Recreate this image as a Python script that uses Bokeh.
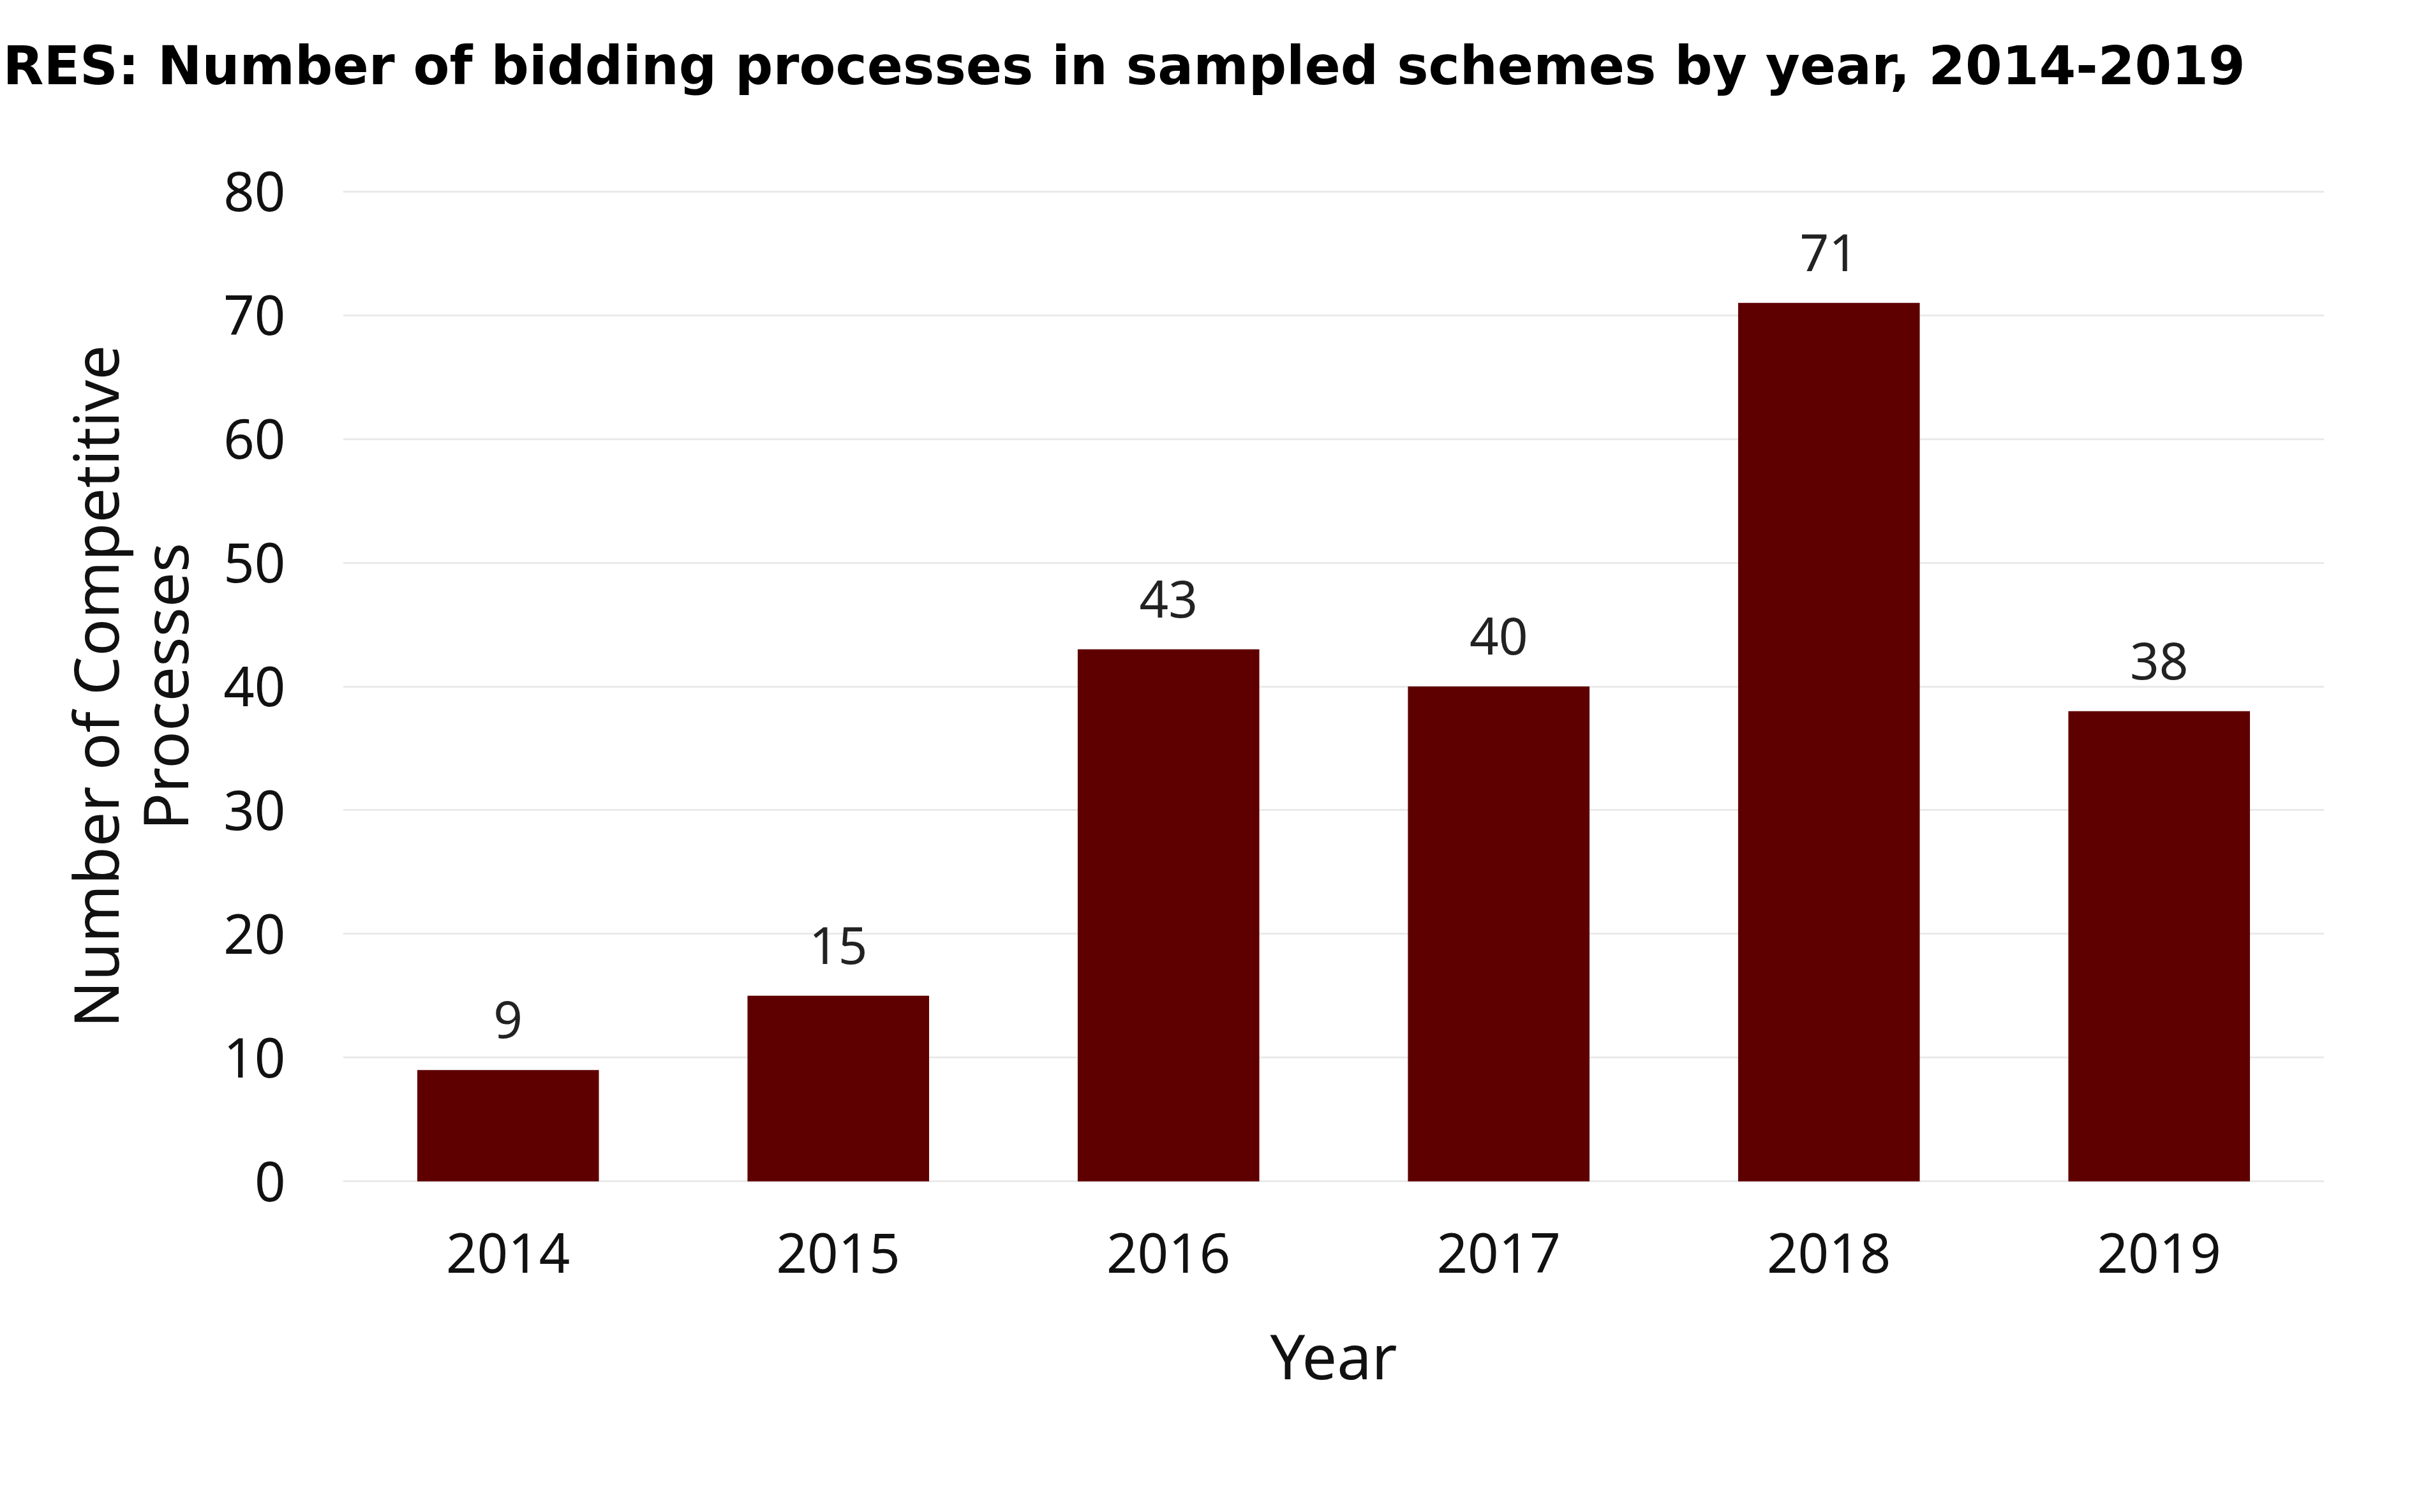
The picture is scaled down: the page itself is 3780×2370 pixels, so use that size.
from bokeh.plotting import figure
from bokeh.models import ColumnDataSource, Range1d, FactorRange, FixedTicker
from bokeh.core.properties import value
from bokeh.embed import file_html
from bokeh.resources import INLINE

years = ["2014", "2015", "2016", "2017", "2018", "2019"]
counts = [9, 15, 43, 40, 71, 38]
y_ticks = [0, 10, 20, 30, 40, 50, 60, 70, 80]
title_text = "RES: Number of bidding processes in sampled schemes by year, 2014-2019"
x_title = "Year"
y_title = "Number of Competitive\nProcesses"

src = ColumnDataSource(dict(year=years, count=counts, label=[str(c) for c in counts]))

p = figure(width=3764, height=2354,
           x_range=FactorRange(*years, range_padding=0),
           y_range=Range1d(-0.3, 80.3),
           output_backend="svg", toolbar_location=None,
           min_border_left=537, min_border_right=122,
           min_border_top=294, min_border_bottom=497)
p.outline_line_color = None
p.background_fill_color = "white"

p.title.text = title_text + "\n "
p.title.align = "left"
p.title.vertical_align = "bottom"
p.title.offset = -533
p.title.text_font = "DejaVu Sans"
p.title.text_font_style = "bold"
p.title.text_font_size = "83px"
p.title.text_line_height = 1.42
p.title.text_color = "black"
p.title.standoff = 10

p.vbar(x="year", top="count", width=0.55, source=src,
       fill_color="#5f0000", line_color=None)
p.text(x="year", y="count", text="label", source=src,
       text_align="center", text_baseline="alphabetic", y_offset=-79,
       text_font=value("Noto Sans"), text_font_size="80px", text_color="#222222")

for ax in (p.xaxis, p.yaxis):
    ax.axis_line_color = None
    ax.major_tick_line_color = None
    ax.minor_tick_line_color = None
    ax.major_label_text_font = "Noto Sans"
    ax.major_label_text_font_size = "85px"
    ax.major_label_text_color = "#111111"
    ax.axis_label_text_font = "Noto Sans"
    ax.axis_label_text_font_size = "97px"
    ax.axis_label_text_font_style = "normal"
    ax.axis_label_text_color = "#111111"

p.yaxis.ticker = FixedTicker(ticks=y_ticks)
p.yaxis.major_label_standoff = 84
p.xaxis.major_label_standoff = 69
p.xaxis.axis_label = x_title
p.xaxis.axis_label_standoff = 60
p.yaxis.axis_label = y_title
p.yaxis.axis_label_standoff = 24
p.yaxis.axis_label_text_line_height = 0.83

p.xgrid.grid_line_color = None
p.ygrid.grid_line_color = "#eaeaea"
p.ygrid.grid_line_width = 3

open("out.html", "w").write(file_html(p, INLINE))
